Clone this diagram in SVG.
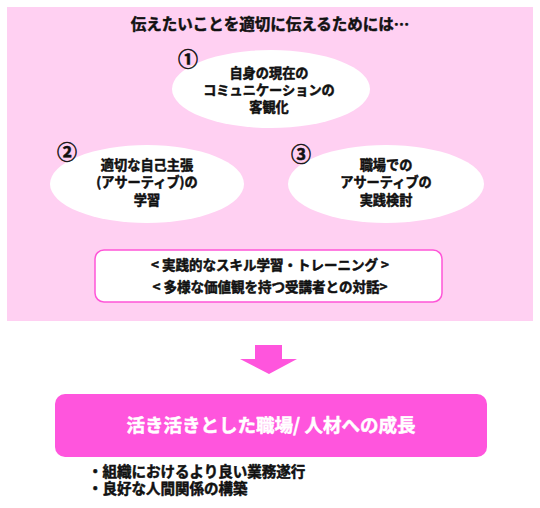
<svg xmlns="http://www.w3.org/2000/svg" width="540" height="508" viewBox="0 0 540 508">
<style>
text{font-family:"Noto Sans CJK JP","Noto Sans",sans-serif;font-weight:700;text-anchor:middle;fill:#111;stroke:#111;stroke-width:0.5px;stroke-linejoin:round}
.t{font-size:15.5px}
.e{font-size:13.2px}
.n{font-size:20px}
.b{font-size:13.5px}
.m{font-size:18.5px;fill:#fff;stroke:#fff}
.l{font-size:14.5px;text-anchor:start}
.ell{fill:#fff}
</style>
<rect x="7" y="7" width="526" height="314" fill="#ffd0f2"/>
<g id="title"><text class="t" x="270" y="30">伝えたいことを適切に伝えるためには…</text></g>
<g id="node1">
<ellipse class="ell" cx="271" cy="89" rx="99" ry="39"/>
<text class="n" x="188" y="67">①</text>
<text class="e" x="269" y="78">自身の現在の</text>
<text class="e" x="269" y="95">コミュニケーションの</text>
<text class="e" x="269" y="112">客観化</text>
</g>
<g id="node2">
<ellipse class="ell" cx="147" cy="184" rx="97" ry="39"/>
<text class="n" x="67" y="160">②</text>
<text class="e" x="147" y="170">適切な自己主張</text>
<text class="e" x="147" y="187">(アサーティブ)の</text>
<text class="e" x="147" y="205">学習</text>
</g>
<g id="node3">
<ellipse class="ell" cx="386" cy="184" rx="98" ry="39"/>
<text class="n" x="301" y="162">③</text>
<text class="e" x="386" y="170">職場での</text>
<text class="e" x="386" y="187">アサーティブの</text>
<text class="e" x="386" y="205">実践検討</text>
</g>
<g id="practice">
<rect x="95" y="250" width="347" height="52" rx="9" fill="#fff" stroke="#ff55d8" stroke-width="1.5"/>
<text class="b" x="270" y="270">&lt; 実践的なスキル学習・トレーニング &gt;</text>
<text class="b" x="270" y="292">&lt; 多様な価値観を持つ受講者との対話&gt;</text>
</g>
<g id="connectors">
<polygon points="255,345 282,345 282,359 297,359 269,374 240,359 255,359" fill="#ff55dd"/>
</g>
<g id="result">
<rect x="55" y="394" width="432" height="63" rx="10" fill="#ff55dd"/>
<text class="m" x="271" y="432">活き活きとした職場/ 人材への成長</text>
</g>
<g id="bullets">
<text class="l" x="88" y="477">・組織におけるより良い業務遂行</text>
<text class="l" x="88" y="494">・良好な人間関係の構築</text>
</g>
</svg>
